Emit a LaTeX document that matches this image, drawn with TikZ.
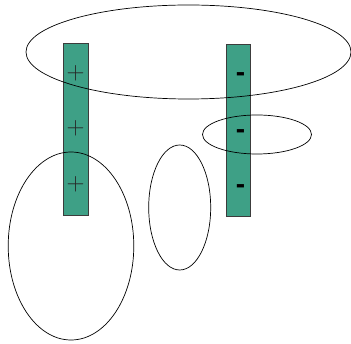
\documentclass[tikz,border=0pt]{standalone}
\usepackage{fontspec}
\usepackage{tikz}
\newfontfamily\signfont{Liberation Sans}
\definecolor{bar}{RGB}{62, 160, 134}
\definecolor{rim}{RGB}{60, 60, 60}

\begin{document}
\begin{tikzpicture}[
   x=1pt, y=-1pt,
   barrec/.style={draw=rim, fill=bar, line width=0.8},
   ring/.style={draw=black, line width=0.7},
   plussign/.style={inner sep=0, text=black!85, font=\fontsize{30}{30}\selectfont},
   minussign/.style={inner sep=0, text=black, font=\signfont\bfseries\fontsize{28}{28}\selectfont}
  ]

  \useasboundingbox (0, 0) rectangle (351, 344);

  % Bars
  \draw[barrec] (63.5, 43) rectangle (88, 215);
  \draw[barrec] (226.5, 44.5) rectangle (250.5, 216);

  \foreach \n/\y in {1/73, 2/128, 3/184} {
    \node (plus\n) at (75.5, \y) [plussign] {$+$};
  }
  \foreach \n/\y in {1/77, 2/134, 3/189} {
    \node (minus\n) at (240.5, \y) [minussign] {-};
  }

  % Ellipses
  \draw[ring] (188.5, 52) ellipse [x radius=162.5, y radius=47];
  \draw[ring] (257, 134.5) ellipse [x radius=54.5, y radius=19.5];
  \draw[ring] (179.7, 207.5) ellipse [x radius=31, y radius=62.5];
  \draw[ring] (71, 246) ellipse [x radius=62.8, y radius=94];

\end{tikzpicture}
\end{document}
